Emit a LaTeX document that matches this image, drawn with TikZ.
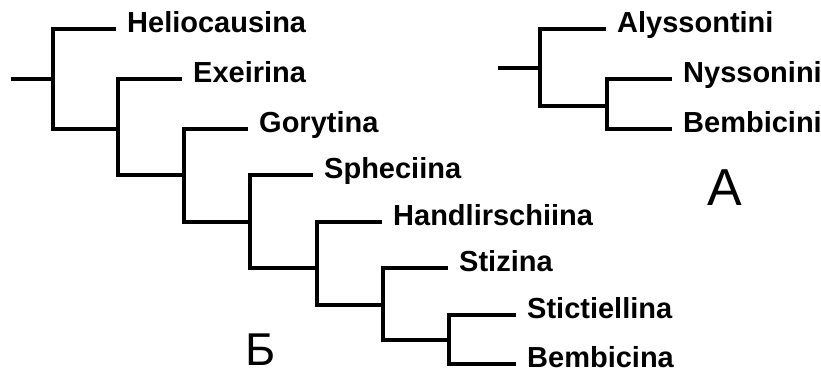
\documentclass[tikz,border=0pt]{standalone}
\usepackage{fontspec}
\setmainfont{Liberation Sans}
\usetikzlibrary{calc,positioning}
\tikzset{
  taxon/.style = {anchor=west, inner xsep=11pt, inner ysep=0pt, text height=0.72em, text depth=0pt, font=\bfseries\fontsize{29}{29}\selectfont},
  branch/.style = {line width=3.6pt},
  panel/.style = {anchor=base, inner sep=0pt}
}
\begin{document}
\begin{tikzpicture}[x=1pt, y=-1pt]
    \useasboundingbox (0,0) rectangle (821,372);
    % tree B
    \coordinate (rootB) at (11,79);
    \coordinate (b1) at (53,79);
    \coordinate (b2) at (118,129);
    \coordinate (b3) at (184,175);
    \coordinate (b4) at (250,222);
    \coordinate (b5) at (317,268);
    \coordinate (b6) at (383,305);
    \coordinate (b7) at (449,340);
    \node[taxon] (heli) at (116,29) {Heliocausina};
    \node[taxon] (exei) at (182,79) {Exeirina};
    \node[taxon] (gory) at (248,129) {Gorytina};
    \node[taxon] (sphe) at (313,175) {Spheciina};
    \node[taxon] (hand) at (382,222) {Handlirschiina};
    \node[taxon] (stiz) at (448,268) {Stizina};
    \node[taxon] (stic) at (516,315) {Stictiellina};
    \node[taxon] (bemb) at (516,364) {Bembicina};
    \draw[branch] (rootB) -- (b1);
    \foreach \p/\c in {b1/heli, b1/b2, b2/exei, b2/b3, b3/gory, b3/b4, b4/sphe, b4/b5,
                       b5/hand, b5/b6, b6/stiz, b6/b7, b7/stic, b7/bemb}
        \draw[branch] (\p) |- (\c);
    % tree A
    \coordinate (rootA) at (498,68);
    \coordinate (a1) at (540,68);
    \coordinate (a2) at (607,106);
    \node[taxon] (alys) at (606,29) {Alyssontini};
    \node[taxon] (nyss) at (672,79) {Nyssonini};
    \node[taxon] (bemi) at (672,129) {Bembicini};
    \draw[branch] (rootA) -- (a1);
    \foreach \p/\c in {a1/alys, a1/a2, a2/nyss, a2/bemi}
        \draw[branch] (\p) |- (\c);
    % panel letters
    \node[panel, font=\fontsize{52}{52}\selectfont] (labA) at (725,205) {A};
    \node[panel, font=\fontsize{46}{46}\selectfont] (labB) at (261,365) {Б};
\end{tikzpicture}
\end{document}
